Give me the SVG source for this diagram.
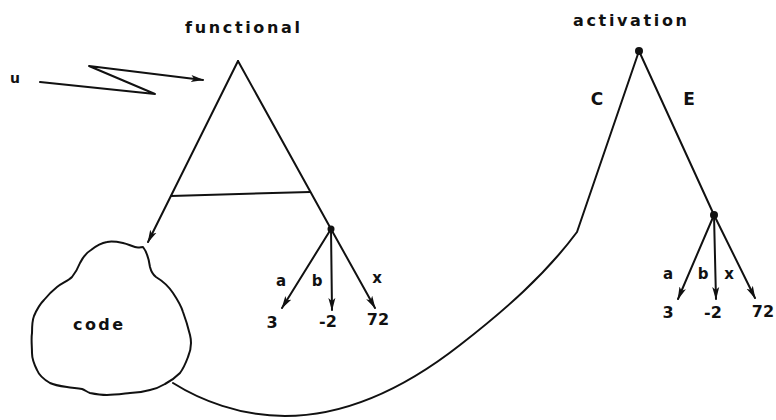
<svg xmlns="http://www.w3.org/2000/svg" width="776" height="420" viewBox="0 0 776 420">
<style>
.ln{fill:none;stroke:#111;stroke-width:2;stroke-linecap:round;stroke-linejoin:round}
.ar{marker-end:url(#ah)}
.t{font-family:"DejaVu Sans","Liberation Sans",Arial,sans-serif;font-weight:bold;fill:#111}
.lab{font-size:15px;text-anchor:middle}
.num{font-size:16px;text-anchor:middle}
.ttl{font-size:16px}
.dot{fill:#111}
</style>
<defs>
<marker id="ah" markerUnits="userSpaceOnUse" markerWidth="14" markerHeight="10" refX="12" refY="5" orient="auto">
<path d="M0,1.5 L13,5 L0,8.5 L3,5 z" fill="#111"/>
</marker>
</defs>
<rect width="776" height="420" fill="#fff"/>

<g id="functional">
<text class="t ttl" x="185" y="33" textLength="115" lengthAdjust="spacing">functional</text>
<path class="ln" d="M331,229 L238,61"/>
<line class="ln" x1="171" y1="196" x2="310" y2="192"/>
<circle class="dot" cx="331" cy="229" r="3.5"/>
</g>

<g id="functional-leaves">
<text class="t lab" x="281" y="286">a</text>
<text class="t lab" x="317" y="286">b</text>
<text class="t lab" x="377" y="283">x</text>
<text class="t num" x="272" y="328">3</text>
<text class="t num" x="328" y="327">-2</text>
<text class="t num" x="378" y="325">72</text>
</g>

<g id="code">
<path class="ln" stroke-width="1.8" d="M143,247 C147,252 149,260 150,267 C151,271 152,274 156,277 C161,280 167,284 173,293 C177,299 181,305 183,312 C186,320 188,327 190,335 C192,343 191,350 188,357 C185,365 183,369 180,373 C175,378 171,381 165,384 C160,387 155,389 150,390 C143,392 137,393 130,393 C121,394 114,395 107,395 C100,395 95,394 90,393 C87,392 85,390 82,389 C76,388 71,388 67,387 C60,386 54,385 50,383 C43,379 39,375 37,370 C34,364 32,359 32,353 C32,346 31,339 32,333 C32,327 32,321 34,316 C37,309 40,304 44,300 C48,295 52,291 57,287 C62,283 68,281 72,277 C76,272 78,268 80,263 C83,257 86,253 91,250 C96,246 101,243 107,242 C112,241 118,242 123,243 C128,244 131,246 135,247 C138,248 141,247 143,247 Z"/>
<text class="t ttl" x="73" y="330" textLength="50" lengthAdjust="spacing">code</text>
</g>

<g id="activation">
<text class="t ttl" x="573" y="26" textLength="114" lengthAdjust="spacing">activation</text>
<line class="ln" x1="639" y1="51" x2="714" y2="215"/>
<circle class="dot" cx="639" cy="51" r="4"/>
<circle class="dot" cx="714" cy="215" r="4"/>
<text class="t" font-size="17" x="597" y="105" text-anchor="middle">C</text>
<text class="t" font-size="17" x="689" y="105" text-anchor="middle">E</text>
</g>

<g id="activation-leaves">
<text class="t lab" x="668" y="279">a</text>
<text class="t lab" x="703" y="279">b</text>
<text class="t lab" x="729" y="279">x</text>
<text class="t num" x="668" y="318">3</text>
<text class="t num" x="713" y="318">-2</text>
<text class="t num" x="763" y="317">72</text>
</g>

<g id="u-input">
<text class="t" font-size="14" x="15" y="83" text-anchor="middle">u</text>
</g>

<g id="connectors">
<path class="ln ar" d="M40,82 L155,94 L89,66 L203,80"/>
<path class="ln ar" d="M238,61 L148,242"/>
<path class="ln ar" d="M331,229 L282,308"/>
<path class="ln ar" d="M331,229 L332,310"/>
<path class="ln ar" d="M331,229 L375,308"/>
<path class="ln ar" d="M714,215 L678,299"/>
<path class="ln ar" d="M714,215 L716,299"/>
<path class="ln ar" d="M714,215 L755,298"/>
<path class="ln" d="M173,383 C200,400 240,416 285,416 C340,416 400,392 460,345 C505,310 545,275 577,232 L639,51"/>
</g>
</svg>
